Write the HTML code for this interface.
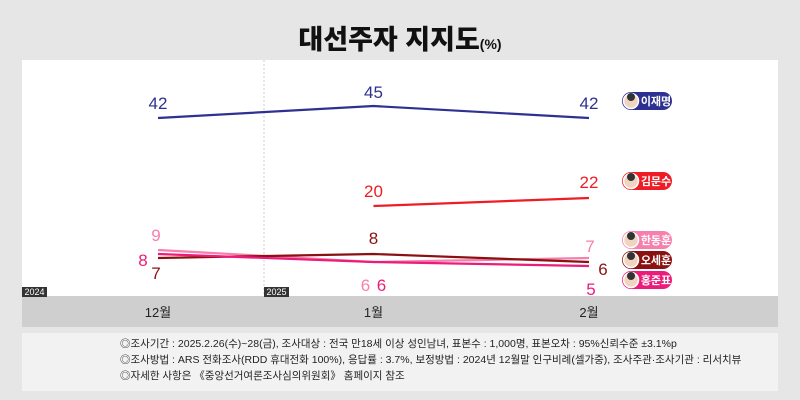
<!DOCTYPE html>
<html><head><meta charset="utf-8"><style>
body{margin:0;width:800px;height:400px;background:#e6e6e6;font-family:"Liberation Sans","Noto Sans CJK KR",sans-serif;overflow:hidden;position:relative}
.t{position:absolute;left:0;width:800px;top:18px;text-align:center;font-size:27px;font-weight:900;color:#111}
.t small{font-size:14px}
.foot{position:absolute;left:120px;top:336px;font-size:10.5px;color:#222;line-height:16px}
</style></head><body>
<div class="t">대선주자 지지도<small>(%)</small></div>
<svg id="c" width="800" height="400" style="position:absolute;left:0;top:0"></svg>
<div class="foot">◎조사기간 : 2025.2.26(수)~28(금), 조사대상 : 전국 만18세 이상 성인남녀, 표본수 : 1,000명, 표본오차 : 95%신뢰수준 ±3.1%p<br>◎조사방법 : ARS 전화조사(RDD 휴대전화 100%), 응답률 : 3.7%, 보정방법 : 2024년 12월말 인구비례(셀가중), 조사주관·조사기관 : 리서치뷰<br>◎자세한 사항은 《중앙선거여론조사심의위원회》 홈페이지 참조</div>
<script>
const months=['12월','1월','2월'];
const names=['이재명','김문수','한동훈','오세훈','홍준표'];
const colors=['#2e3192','#ee1c25','#f77fae','#8b1111','#ec1c7a'];
const s0=[42,45,42];
const s1=[null,20,22];
const s2=[9,6,7];
const s3=[7,8,6];
const s4=[8,6,5];
const series=[s0,s1,s2,s3,s4];
const NS='http://www.w3.org/2000/svg';
const svg=document.getElementById('c');
function x(i){return 158+i*215.5;}
function y(v){return 286-v*4;}
function mk(t,a,p){const e=document.createElementNS(NS,t);for(const k in a)e.setAttribute(k,a[k]);(p||svg).appendChild(e);return e;}
const plot=mk('rect',{x:22,y:60,width:756,height:236,fill:'#fff'});


mk('rect',{x:22,y:296,width:756,height:31,fill:'#cfcfcf'});
mk('rect',{x:22,y:333,width:756,height:58,fill:'#f2f2f2'});
mk('line',{x1:264,y1:60,x2:264,y2:296,stroke:'#ccc','stroke-dasharray':'2,2'});
[[22,'2024'],[264,'2025']].forEach(([xx,t])=>{mk('rect',{x:xx,y:287,width:25,height:10,fill:'#333'});const e=mk('text',{x:xx+12.5,y:295,'font-size':9,fill:'#fff','text-anchor':'middle'});e.textContent=t;});
months.forEach((m,i)=>{const e=mk('text',{x:x(i),y:317,'font-size':13,fill:'#222','text-anchor':'middle'});e.textContent=m;});
function path(s){let d='';s.forEach((v,i)=>{if(v==null)return;d+=(d?' L':'M')+x(i)+','+y(v);});return d;}
const off=[[[0,-15],[0,-14],[0,-15]],[[0,0],[0,-15],[0,-16]],[[-2,-15],[-8,23],[1,-12]],[[-2,15],[0,-16],[14,7]],[[-15,6],[8,23],[2,23]]];
series.forEach((s,si)=>{
 const p=mk('path',{d:path(s),fill:'none',stroke:colors[si],'stroke-width':2.2,'stroke-linejoin':'round'});
 
 
 s.forEach((v,i)=>{if(v==null)return;const o=off[si][i];const e=mk('text',{x:x(i)+o[0],y:y(v)+o[1]+6,'font-size':17,fill:colors[si],'text-anchor':'middle'});e.textContent=v;
 
 });
});
const by=[101,181,240,260,280];
names.forEach((n,i)=>{const g=mk('g',{});
 
 
 mk('rect',{x:622,y:by[i]-9,width:50,height:18,rx:9,fill:colors[i]},g);
 mk('circle',{cx:631,cy:by[i],r:7.5,fill:'#f1d4c0',stroke:'#fff','stroke-width':1.5},g);
 mk('circle',{cx:631,cy:by[i]-4,r:4,fill:'#333'},g);
 const t=mk('text',{x:656,y:by[i]+4,'font-size':11,'font-weight':'bold',fill:'#fff','text-anchor':'middle'},g);t.textContent=n;});
</script>
</body></html>
